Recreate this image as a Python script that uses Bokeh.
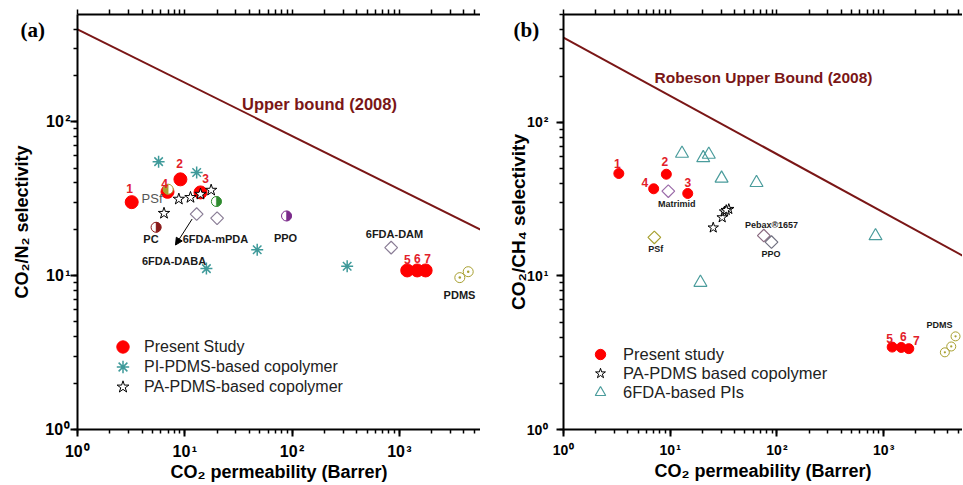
import math
from bokeh.plotting import figure
from bokeh.models import (ColumnDataSource, Range1d, LogTicker, LogAxis, FixedTicker,
                          CustomJSTickFormatter, Legend, LegendItem, Arrow, NormalHead)
from bokeh.layouts import row
from bokeh.core.properties import value
from bokeh.embed import file_html
from bokeh.resources import INLINE

FONT = "Liberation Sans"

# ---------------- Panel (a): CO2/N2 ----------------
a_present_x = [3.2, 9.1, 14.0, 6.9, 1183, 1466, 1757]
a_present_y = [30.0, 42.2, 34.7, 35.0, 10.8, 10.8, 10.8]
a_num_text = ["1", "2", "3", "4", "5", "6", "7"]
a_num_x = [3.05, 8.93, 15.6, 6.47, 1183, 1466, 1828]
a_num_y = [36.9, 53.6, 42.9, 39.8, 12.7, 12.9, 12.9]

a_pi_x = [5.7, 12.9, 47.3, 15.9, 326]
a_pi_y = [55.0, 46.7, 14.7, 11.1, 11.5]

a_pa_x = [6.4, 8.8, 11.3, 14.0, 17.6]
a_pa_y = [25.4, 31.4, 32.2, 33.8, 35.9]

a_dia_x = [12.9, 20.0, 838]
a_dia_y = [25.1, 23.6, 15.2]

a_pdms_x = [3656, 4378]
a_pdms_y = [9.7, 10.6]

a_half_left_x = [7.0]                 # PSf
a_half_left_y = [36.4]
a_half_left_c = ["#a8a030"]
a_half_right_x = [5.4, 19.7, 88.7]    # PC, green, PPO
a_half_right_y = [20.6, 30.3, 24.4]
a_half_right_c = ["#8b1a1a", "#2e8b2e", "#7b2a8b"]

a_ub_x = [1, 10000]
a_ub_y = [398, 16.4]

a_lbl_text = ["PC", "6FDA-mPDA", "PPO", "6FDA-DABA", "6FDA-DAM", "PDMS"]
a_lbl_x = [4.84, 19.3, 86.8, 7.93, 900, 3631]
a_lbl_y = [17.3, 17.3, 17.6, 12.5, 18.7, 7.43]

a_legend = ["Present Study", "PI-PDMS-based copolymer", "PA-PDMS-based copolymer"]

# ---------------- Panel (b): CO2/CH4 ----------------
b_present_x = [3.3, 9.2, 14.6, 7.0, 1203, 1462, 1722]
b_present_y = [46.4, 45.9, 34.4, 36.9, 3.44, 3.42, 3.36]
b_num_text = ["1", "2", "3", "4", "5", "6", "7"]
b_num_x = [3.19, 8.9, 14.6, 5.78, 1135, 1528, 2022]
b_num_y = [53.9, 55.2, 40.4, 40.4, 3.90, 4.04, 3.82]

b_pa_x = [25.3, 30.7, 32.3, 35.4, 33.5]
b_pa_y = [20.6, 24.0, 26.2, 27.2, 26.8]

b_pi_x = [12.9, 20.4, 23.0, 30.3, 64.4, 840, 19.2]
b_pi_y = [62.6, 58.6, 61.7, 43.1, 40.4, 18.2, 9.05]

b_dia_x = [9.6, 7.1, 75.4, 89.0]
b_dia_y = [35.6, 17.8, 18.3, 16.6]
b_dia_c = ["#9a6aa8", "#a8a030", "#8a6a80", "#707080"]

b_pdms_x = [3750, 4303, 4721]
b_pdms_y = [3.18, 3.47, 4.04]

b_ub_x = [1, 10000]
b_ub_y = [356, 10.8]

b_lbl_text = ["Matrimid", "PSf", "Pebax\u00ae1657", "PPO", "PDMS"]
b_lbl_x = [11.5, 7.33, 89, 88, 3342]
b_lbl_y = [29.3, 14.9, 21.4, 13.8, 4.76]

b_legend = ["Present study", "PA-PDMS based copolymer", "6FDA-based PIs"]

RED = "#ff0000"
NUMRED = "#e2202a"
TEAL = "#3f9a9a"
UB = "#7a1616"
OLIVE = "#a8a030"

sup_code = """
const sup = "\u2070\u00b9\u00b2\u00b3\u2074\u2075";
const e = Math.round(Math.log10(tick));
return "10\u200a" + sup.charAt(e);
"""


def log_positions(end):
    top = int(math.floor(math.log10(end)))
    return [m * 10.0 ** k for k in range(0, top + 1) for m in range(1, 10) if m * 10.0 ** k <= end]


def tick_style(ax):
    ax.axis_line_width = 2
    ax.axis_line_color = "black"
    ax.major_tick_in = 0
    ax.major_tick_out = 7
    ax.minor_tick_in = 0
    ax.minor_tick_out = 4
    ax.major_tick_line_width = 2
    ax.minor_tick_line_width = 1.5
    ax.major_tick_line_color = "black"
    ax.minor_tick_line_color = "black"


def style_axis(ax, label, label_standoff, tick_size, label_size, lab_standoff):
    tick_style(ax)
    ax.ticker = LogTicker(mantissas=[1], num_minor_ticks=10)
    ax.formatter = CustomJSTickFormatter(code=sup_code)
    ax.major_label_text_font = FONT
    ax.major_label_text_font_style = "bold"
    ax.major_label_text_font_size = tick_size
    ax.major_label_text_color = "black"
    ax.major_label_standoff = label_standoff
    ax.axis_label = label
    ax.axis_label_text_font = FONT
    ax.axis_label_text_font_style = "bold"
    ax.axis_label_text_font_size = label_size
    ax.axis_label_text_color = "black"
    ax.axis_label_standoff = lab_standoff


def make_fig(width, height, x_end, y_end, bl, bb, xlabel, ylabel, tag, tag_offset,
             ytick, ytick_size, ylab, ylab_size, xtick, xtick_size, xlab, xlab_size):
    p = figure(width=width, height=height, x_axis_type="log", y_axis_type="log",
               x_range=Range1d(1, x_end), y_range=Range1d(1, y_end),
               output_backend="svg", toolbar_location=None)
    p.min_border_left = bl
    p.min_border_right = 0
    p.min_border_top = 14
    p.min_border_bottom = bb
    p.outline_line_color = None
    p.grid.visible = False
    p.background_fill_color = "white"
    p.border_fill_color = "white"
    style_axis(p.xaxis[0], xlabel, xtick, xtick_size, xlab_size, xlab)
    style_axis(p.yaxis[0], ylabel, ytick, ytick_size, ylab_size, ylab)
    # top frame edge: rule plus unlabelled tick marks
    top = LogAxis()
    tick_style(top)
    top.minor_tick_out = 5
    top.ticker = FixedTicker(ticks=[], minor_ticks=log_positions(x_end))
    p.above = [top] + [r for r in p.above if r is not top]
    p.title.text = tag
    p.title.align = "left"
    p.title.offset = tag_offset
    p.title.standoff = -64
    p.title.text_font = "Liberation Serif"
    p.title.text_font_style = "bold"
    p.title.text_font_size = "21px"
    p.title.text_color = "black"
    return p


def texts(p, xs, ys, txt, size, color, bold=True, font=FONT):
    src = ColumnDataSource(dict(x=xs, y=ys, text=txt))
    p.text(x="x", y="y", text="text", source=src, text_font=value(font),
           text_font_size=value(size), text_font_style="bold" if bold else "normal",
           text_color=color, text_align="center", text_baseline="middle")


def half_markers(p, xs, ys, cols, side, size=10):
    src = ColumnDataSource(dict(x=xs, y=ys, c=cols))
    p.scatter(x="x", y="y", source=src, marker="circle", size=size,
              fill_color="white", line_color="c", line_width=1)
    if side == "left":
        sa, ea = math.pi / 2, 3 * math.pi / 2
    else:
        sa, ea = -math.pi / 2, math.pi / 2
    p.wedge(x="x", y="y", source=src, radius=size / 2, radius_units="screen",
            start_angle=sa, end_angle=ea, fill_color="c", line_color="c", line_width=0.5)


def add_legends(p, labels, renderers, x, ys, glyph, standoff, font_size):
    for lab, r, y in zip(labels, renderers, ys):
        lg = Legend(items=[LegendItem(label=lab, renderers=[r])],
                    location=(x, y), glyph_width=glyph, glyph_height=glyph, label_height=18,
                    spacing=0, padding=0, margin=0, border_line_color=None,
                    background_fill_alpha=0, label_standoff=standoff,
                    label_text_font=FONT, label_text_font_size=font_size,
                    label_text_color="#222222")
        p.add_layout(lg)


# ======================= Panel (a) =======================
pa = make_fig(480, 484, 5700, 497, 77, 52,
              "CO\u2082 permeability (Barrer)", "CO\u2082/N\u2082 selectivity", "(a)", -57,
              0, "16px", 10, "18px", 6, "16px", -1, "18px")

pa.line(a_ub_x, a_ub_y, line_color=UB, line_width=2)

r_pi_a = pa.scatter(a_pi_x, a_pi_y, marker="asterisk", size=12, line_color=TEAL, line_width=1.5)
r_ps_a = pa.scatter(a_present_x, a_present_y, marker="circle", size=13,
                    fill_color=RED, line_color=RED)
half_markers(pa, a_half_left_x, a_half_left_y, a_half_left_c, "left", size=10)
half_markers(pa, a_half_right_x, a_half_right_y, a_half_right_c, "right", size=10)
r_pa_a = pa.scatter(a_pa_x, a_pa_y, marker="star", size=12, fill_color="white",
                    line_color="black", line_width=1)
pa.scatter(a_dia_x, a_dia_y, marker="square", angle=math.pi / 4, size=9,
           fill_color="white", line_color="#8a7d96", line_width=1.2)
pa.scatter(a_pdms_x, a_pdms_y, marker="circle_dot", size=10, fill_color=None,
           line_color=OLIVE, line_width=1)

pa.add_layout(Arrow(end=NormalHead(size=7, fill_color="black", line_color="black"),
                    x_start=11.7, y_start=23.3, x_end=8.19, y_end=15.8,
                    line_color="black", line_width=1))

texts(pa, a_num_x, a_num_y, a_num_text, "12px", NUMRED)
texts(pa, a_lbl_x, a_lbl_y, a_lbl_text, "11px", "#1a1a1a")
texts(pa, [4.95], [31.9], ["PSf"], "13px", "#555555", bold=False)
texts(pa, [180], [131], ["Upper bound (2008)"], "16.5px", UB)

add_legends(pa, a_legend, [r_ps_a, r_pi_a, r_pa_a], 30, [67, 47, 27], 31, 6, "16px")

# ======================= Panel (b) =======================
pb = make_fig(482, 484, 5487, 503, 83, 54,
              "CO\u2082 permeability (Barrer)", "CO\u2082/CH\u2084 selectivity", "(b)", -50,
              8, "14px", -5, "19px", 5, "14px", 0, "18px")

pb.line(b_ub_x, b_ub_y, line_color=UB, line_width=2)

r_pi_b = pb.scatter(b_pi_x, b_pi_y, marker="triangle", size=13, fill_color=None,
                    line_color="#4a9c9c", line_width=1.2)
r_ps_b = pb.scatter(b_present_x, b_present_y, marker="circle", size=10,
                    fill_color=RED, line_color=RED)
r_pa_b = pb.scatter(b_pa_x, b_pa_y, marker="star", size=11, fill_color="white",
                    line_color="black", line_width=1)
pb.scatter(b_dia_x, b_dia_y, marker="square", angle=math.pi / 4, size=9,
           fill_color="white", line_color=b_dia_c, line_width=1.2)
pb.scatter(b_pdms_x, b_pdms_y, marker="circle_dot", size=9, fill_color=None,
           line_color=OLIVE, line_width=1)

texts(pb, b_num_x, b_num_y, b_num_text, "12px", NUMRED)
texts(pb, b_lbl_x, b_lbl_y, b_lbl_text, "9px", "#1a1a1a")
texts(pb, [74.9], [196], ["Robeson Upper Bound (2008)"], "15.5px", UB)

add_legends(pb, b_legend, [r_ps_b, r_pa_b, r_pi_b], 24, [62, 43, 24], 26, 10, "16.5px")

layout = row(pa, pb)
open("out.html", "w").write(file_html(layout, INLINE))
